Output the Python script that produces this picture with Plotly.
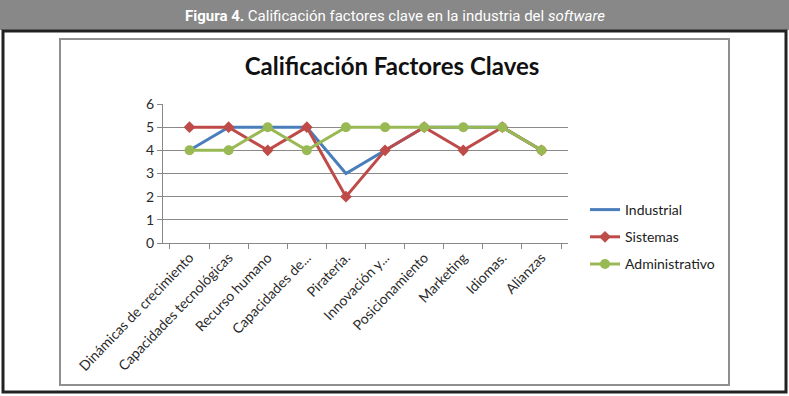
import plotly.graph_objects as go

categories = ["Dinámicas de crecimiento", "Capacidades tecnológicas", "Recurso humano",
              "Capacidades de...", "Piratería.", "Innovación y...", "Posicionamiento",
              "Marketing", "Idiomas.", "Alianzas"]
industrial = [4, 5, 5, 5, 3, 4, 5, 5, 5, 4]
sistemas = [5, 5, 4, 5, 2, 4, 5, 4, 5, 4]
administrativo = [4, 4, 5, 4, 5, 5, 5, 5, 5, 4]
y_ticks = [0, 1, 2, 3, 4, 5, 6]

W, H = 789, 396
fig = go.Figure()
fig.add_trace(go.Scatter(x=categories, y=industrial, name="Industrial", mode="lines",
                         line=dict(color="#4A7EBB", width=3), legendgroup="a"))
fig.add_trace(go.Scatter(x=categories, y=sistemas, name="Sistemas", mode="lines+markers",
                         line=dict(color="#BE4B48", width=3),
                         marker=dict(symbol="diamond", size=9, color="#BE4B48"), legendgroup="b"))
fig.add_trace(go.Scatter(x=categories, y=administrativo, name="Administrativo", mode="lines+markers",
                         line=dict(color="#98B954", width=3),
                         marker=dict(symbol="circle", size=10, color="#98B954"), legendgroup="c"))

def px_x(v):
    return v / W

def px_y(v):
    return 1 - v / H

shapes = [
    dict(type="rect", xref="paper", yref="paper", x0=0, x1=1, y0=px_y(30), y1=1,
         fillcolor="#888888", line=dict(width=0), layer="below"),
    dict(type="rect", xref="paper", yref="paper", x0=px_x(3), x1=px_x(786), y0=px_y(392), y1=px_y(31),
         fillcolor="rgba(0,0,0,0)", line=dict(color="#222222", width=3)),
    dict(type="rect", xref="paper", yref="paper", x0=px_x(60), x1=px_x(729), y0=px_y(385), y1=px_y(39),
         fillcolor="rgba(0,0,0,0)", line=dict(color="#8f8f8f", width=2)),
]

fig.update_layout(
    width=W, height=H,
    margin=dict(l=0, r=0, t=0, b=0, autoexpand=False),
    paper_bgcolor="white", plot_bgcolor="white",
    shapes=shapes,
    font=dict(family="Lato, Open Sans, sans-serif", color="#222222"),
    title=dict(text="<b>Calificación Factores Claves</b>", x=392 / W, xanchor="center",
               y=px_y(67), yanchor="middle", font=dict(size=24, color="#111111", family="Lato, Open Sans, sans-serif")),
    annotations=[dict(text="<b>Figura 4.</b> Calificación factores clave en la industria del <i>software</i>",
                      xref="paper", yref="paper", x=0.5, y=px_y(16), xanchor="center", yanchor="middle",
                      showarrow=False, font=dict(size=15, color="white",
                                                 family="Liberation Sans Narrow, Roboto, sans-serif"))],
    xaxis=dict(domain=[px_x(163), px_x(568)], type="category", tickangle=-46,
               tickson="boundaries", ticks="outside", ticklen=5, tickcolor="#888888",
               showline=True, linecolor="#888888", linewidth=1, showgrid=False,
               tickfont=dict(size=14, color="#2a2a2a"), fixedrange=True),
    yaxis=dict(domain=[px_y(243), px_y(104)], range=[0, 6], tickvals=y_ticks,
               ticks="outside", ticklen=5, tickcolor="#888888",
               showline=True, linecolor="#888888", linewidth=1,
               showgrid=True, gridcolor="#8a8a8a", gridwidth=1, zeroline=False,
               tickfont=dict(size=14, color="#2a2a2a")),
    legend=dict(x=px_x(585), y=px_y(194), xanchor="left", yanchor="top",
                font=dict(size=14, color="#222222"), tracegroupgap=6,
                itemwidth=30, bgcolor="rgba(0,0,0,0)"),
    showlegend=True,
)

fig.write_html("out.html", config={"displayModeBar": False},
               post_script="document.body.style.margin='0';document.body.style.overflow='hidden';")
